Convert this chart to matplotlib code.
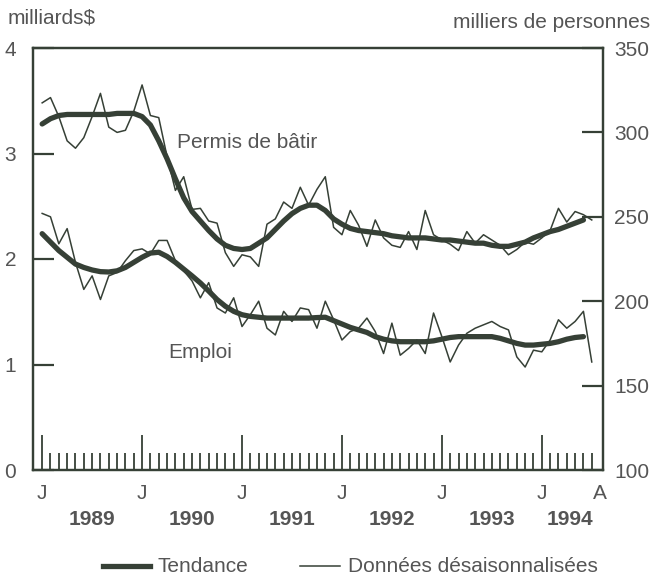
import matplotlib
matplotlib.use("Agg")
import matplotlib.pyplot as plt
import numpy as np
from matplotlib.ticker import FixedLocator

plt.rcParams['font.family'] = ['Liberation Sans', 'DejaVu Sans']

# monthly, Jan 1989 = 0
permis_brut = [3.48, 3.53, 3.35, 3.12, 3.05, 3.15, 3.35, 3.57, 3.25, 3.20, 3.22, 3.40,
               3.65, 3.36, 3.34, 2.97, 2.65, 2.78, 2.47, 2.48, 2.36, 2.34, 2.06, 1.93,
               2.04, 2.02, 1.93, 2.33, 2.38, 2.54, 2.48, 2.68, 2.51, 2.66, 2.78, 2.30,
               2.23, 2.46, 2.32, 2.12, 2.37, 2.20, 2.13, 2.11, 2.26, 2.09, 2.46, 2.23,
               2.18, 2.14, 2.08, 2.26, 2.15, 2.23, 2.18, 2.13, 2.04, 2.09, 2.16, 2.14,
               2.20, 2.27, 2.48, 2.35, 2.45, 2.42, 2.37]
permis_tend = [3.28, 3.33, 3.36, 3.37, 3.37, 3.37, 3.37, 3.37, 3.37, 3.38, 3.38, 3.38,
               3.35, 3.27, 3.12, 2.95, 2.76, 2.58, 2.45, 2.36, 2.27, 2.19, 2.13, 2.10,
               2.09, 2.10, 2.15, 2.20, 2.28, 2.36, 2.43, 2.48, 2.51, 2.51, 2.46, 2.38,
               2.33, 2.29, 2.27, 2.26, 2.25, 2.24, 2.22, 2.21, 2.20, 2.20, 2.20, 2.19,
               2.18, 2.18, 2.17, 2.16, 2.15, 2.15, 2.13, 2.12, 2.12, 2.14, 2.16, 2.20,
               2.23, 2.26, 2.28, 2.31, 2.34, 2.37]
emploi_brut = [252, 250, 234, 243, 223, 207, 215, 201, 215, 217, 224, 230,
               231, 228, 236, 236, 224, 218, 212, 202, 211, 196, 193, 202,
               185, 192, 200, 184, 180, 194, 188, 196, 195, 184, 200, 189,
               177, 182, 184, 190, 182, 169, 187, 168, 172, 177, 169, 193,
               179, 164, 174, 181, 184, 186, 188, 185, 183, 167, 161, 171,
               170, 177, 189, 184, 188, 194, 164]
emploi_tend = [240, 235, 230, 226, 222, 220, 218.5, 217.5, 217.3, 218, 220, 223,
               226, 228.5, 229, 226.5, 223, 219, 215, 210.8, 206, 201, 197, 194,
               192, 191, 190.5, 190, 190, 190, 190, 190, 190, 190.3, 190.5, 188.5,
               186.5, 184.5, 183, 181.5, 179, 177.5, 176.5, 176, 176, 176, 176, 176.5,
               177.5, 178.5, 179, 179, 179, 179, 179, 178, 176.5, 175, 174, 174,
               174.5, 175, 176, 177.5, 178.5, 179]
annees = ['1989', '1990', '1991', '1992', '1993', '1994']

LINE = '#364036'
TXT = '#555555'
FS = 15

fig = plt.figure(figsize=(6.55, 5.87), dpi=100)
ax = fig.add_axes([33/655, 117/587, 570/655, 422/587])
ax2 = ax.twinx()

ax.plot(np.arange(len(permis_brut)), permis_brut, color=LINE, lw=1.1)
ax.plot(np.arange(len(permis_tend)), permis_tend, color=LINE, lw=3.8,
        solid_capstyle='round')
ax2.plot(np.arange(len(emploi_brut)), emploi_brut, color=LINE, lw=1.1)
ax2.plot(np.arange(len(emploi_tend)), emploi_tend, color=LINE, lw=3.8,
         solid_capstyle='round')

ax.set_xlim(-1.1, 67.35)
ax.set_ylim(0, 4)
ax2.set_ylim(100, 350)

ax.set_yticks([0, 1, 2, 3, 4])
ax.tick_params(axis='y', direction='in', length=15, width=1.6, color=LINE,
               labelsize=FS, labelcolor=TXT, pad=12)
ax2.set_yticks([100, 150, 200, 250, 300, 350])
ax2.tick_params(axis='y', direction='in', length=15, width=1.6, color=LINE,
                labelsize=FS, labelcolor=TXT, pad=8)

ax.set_xticks([0, 12, 24, 36, 48, 60])
ax.set_xticklabels([])
ax.xaxis.set_minor_locator(FixedLocator([m for m in range(1, 67) if m % 12]))
ax.tick_params(axis='x', which='major', direction='in', length=25, width=1.3,
               color=LINE)
ax.tick_params(axis='x', which='minor', direction='in', length=12, width=1.3,
               color=LINE)

for sp in list(ax.spines.values()) + list(ax2.spines.values()):
    sp.set_color(LINE)
    sp.set_linewidth(1.6)

trans = ax.get_xaxis_transform()
for m in [0, 12, 24, 36, 48, 60]:
    ax.text(m, -0.055, 'J', transform=trans, ha='center', va='center',
            fontsize=FS, color=TXT)
ax.text(67, -0.055, 'A', transform=trans, ha='center', va='center',
        fontsize=FS, color=TXT)
for i, an in enumerate(annees):
    x = 6 + 12 * i if i < 5 else 63.4
    ax.text(x, -0.118, an, transform=trans, ha='center', va='center',
            fontsize=FS, fontweight='bold', color=TXT)

ax.text(16.2, 3.1, 'Permis de bâtir', fontsize=FS, color=TXT, va='center')
ax.text(15.1, 1.11, 'Emploi', fontsize=FS, color=TXT, va='center')

fig.text(8/655, 1 - 18/587, 'milliards$', fontsize=FS, color=TXT,
         ha='left', va='center')
fig.text(650/655, 1 - 22/587, 'milliers de personnes', fontsize=FS, color=TXT,
         ha='right', va='center')

# legend drawn in figure pixels
ly = 1 - 566/587
fig.add_artist(plt.Line2D([103/655, 150/655], [ly, ly], color=LINE, lw=3.8,
                          transform=fig.transFigure))
fig.text(157/655, ly, 'Tendance', fontsize=FS, color=TXT, ha='left', va='center')
fig.add_artist(plt.Line2D([300/655, 340/655], [ly, ly], color=LINE, lw=1.1,
                          transform=fig.transFigure))
fig.text(348/655, ly, 'Données désaisonnalisées', fontsize=FS, color=TXT,
         ha='left', va='center')

fig.savefig('out.png', dpi=100, facecolor='white')
